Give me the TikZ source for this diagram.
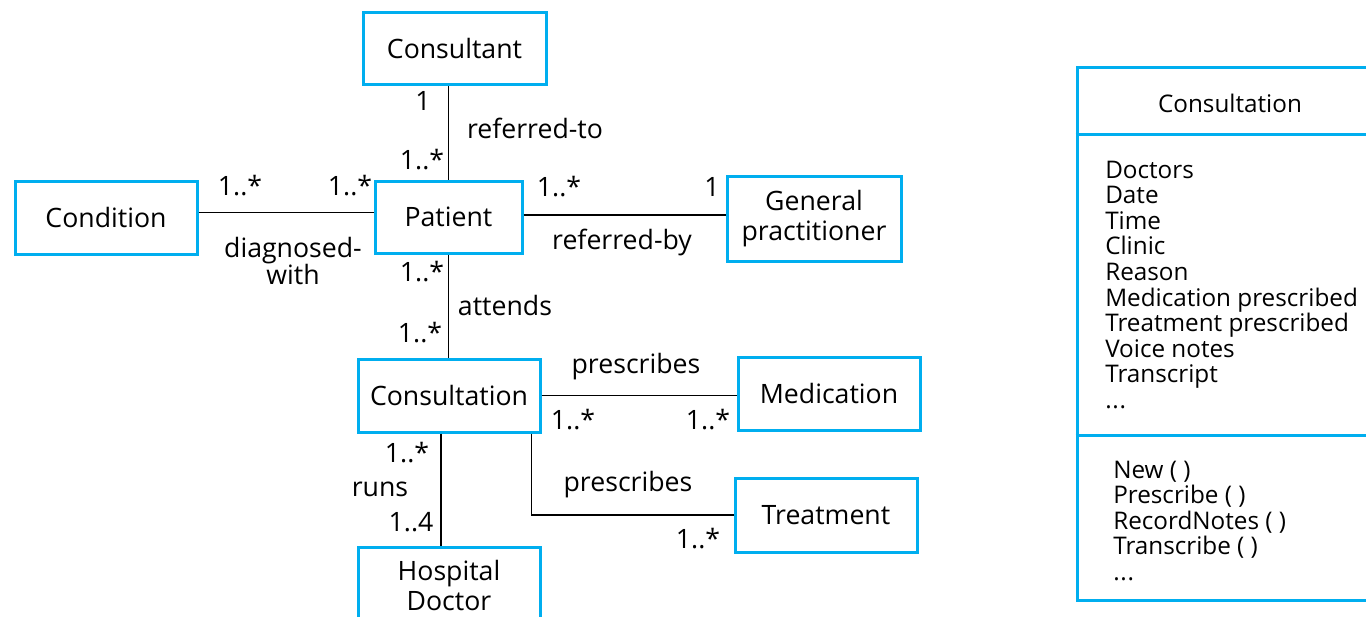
\documentclass[tikz,border=0pt]{standalone}
\usepackage{fontspec}
\setmainfont{Open Sans}
\usetikzlibrary{calc}
\definecolor{boxblue}{RGB}{0,174,239}
\begin{document}
\begin{tikzpicture}[x=0.75pt,y=-0.75pt,
  box/.style={draw=boxblue, line width=2.25pt, fill=white, inner sep=0pt, align=center,
    font=\fontsize{20}{22}\selectfont},
  lbl/.style={inner sep=0pt, font=\fontsize{20}{22}\selectfont},
  conn/.style={line width=1.1pt, black},
  attr/.style={inner sep=0pt, anchor=base west, font=\fontsize{18.2}{20}\selectfont}]
\useasboundingbox (0,0) rectangle (1366,617);
\fill[white] (0,0) rectangle (1366,617);

% class boxes
\node[box, minimum width=183*0.75pt, minimum height=72*0.75pt] (consultant) at (454.5,49) {Consultant};
\node[box, minimum width=182*0.75pt, minimum height=73*0.75pt] (condition) at (106,217.5) {Condition};
\node[box, minimum width=147*0.75pt, minimum height=72*0.75pt] (patient) at (448.5,217) {Patient};
\node[box, minimum width=174*0.75pt, minimum height=85*0.75pt] (gp) at (814,218.5) {General\\practitioner};
\node[box, minimum width=182*0.75pt, minimum height=73*0.75pt] (consultation) at (449,395.5) {Consultation};
\node[box, minimum width=182*0.75pt, minimum height=73*0.75pt] (medication) at (829,393.5) {Medication};
\node[box, minimum width=182*0.75pt, minimum height=74*0.75pt] (treatment) at (826,515) {Treatment};
\node[box, minimum width=182*0.75pt, minimum height=77*0.75pt] (hospital) at (449,585.5) {Hospital\\Doctor};

% connectors
\draw[conn] (patient.north) -- (patient.north |- consultant.south);
\draw[conn] ($(condition.east)+(0,-5)$) coordinate (cp) -- (cp -| patient.west);
\draw[conn] ($(patient.east)+(0,-2)$) coordinate (pg) -- (pg -| gp.west);
\draw[conn] (patient.south) -- (patient.south |- consultation.north);
\draw[conn] (consultation.east) -- (consultation.east -| medication.west);
\draw[conn] ($(consultation.south east)+(-10,0)$) |- (treatment.west);
\draw[conn] ($(consultation.south)+(-8,0)$) coordinate (ch) -- (ch |- hospital.north);

% labels
\node[lbl] (m1) at (423,101) {1};
\node[lbl] (m2) at (422,160) {1..*};
\node[lbl] (l1) at (535,128) {referred-to};
\node[lbl] (m3) at (240,186) {1..*};
\node[lbl] (m4) at (350,186) {1..*};
\node[lbl, align=center, font=\fontsize{20}{20.5}\selectfont] (l2) at (293,261) {diagnosed-\\with};
\node[lbl] (m5) at (559,187) {1..*};
\node[lbl] (m6) at (712,187) {1};
\node[lbl] (l3) at (622,242) {referred-by};
\node[lbl] (m7) at (422,272) {1..*};
\node[lbl] (l4) at (505,305) {attends};
\node[lbl] (m8) at (420,333) {1..*};
\node[lbl] (l5) at (636,367) {prescribes};
\node[lbl] (m9) at (573,420) {1..*};
\node[lbl] (m10) at (708,420) {1..*};
\node[lbl] (m11) at (407,453) {1..*};
\node[lbl] (l6) at (380,489) {runs};
\node[lbl] (m12) at (411,522) {1..4};
\node[lbl] (l7) at (628,485) {prescribes};
\node[lbl] (m13) at (698,539) {1..*};

% detailed Consultation class
\node[draw=boxblue, line width=2.25pt, fill=white, inner sep=0pt,
  minimum width=303*0.75pt, minimum height=532*0.75pt] (cbox) at (1228.5,334) {};
\draw[draw=boxblue, line width=2.25pt] (cbox.west |- 0,134) coordinate (d1) -- (d1 -| cbox.east);
\draw[draw=boxblue, line width=2.25pt] (cbox.west |- 0,435) coordinate (d2) -- (d2 -| cbox.east);
\node[inner sep=0pt, font=\fontsize{18.2}{20}\selectfont] (ctitle) at (1230,103) {Consultation};
\node[attr] (a1) at (1105,178) {Doctors};
\node[attr] (a2) at (1105,203.6) {Date};
\node[attr] (a3) at (1105,229.2) {Time};
\node[attr] (a4) at (1105,254.8) {Clinic};
\node[attr] (a5) at (1105,280.4) {Reason};
\node[attr] (a6) at (1105,306) {Medication prescribed};
\node[attr] (a7) at (1105,331.6) {Treatment prescribed};
\node[attr] (a8) at (1105,357.2) {Voice notes};
\node[attr] (a9) at (1105,382.8) {Transcript};
\node[attr] (a10) at (1105,408.4) {.\kern0.5pt.\kern0.5pt.};
\node[attr] (o1) at (1113,478) {New ( )};
\node[attr] (o2) at (1113,503.6) {Prescribe ( )};
\node[attr] (o3) at (1113,529.2) {RecordNotes ( )};
\node[attr] (o4) at (1113,554.8) {Transcribe ( )};
\node[attr] (o5) at (1113,580.4) {.\kern0.5pt.\kern0.5pt.};
\end{tikzpicture}
\end{document}
